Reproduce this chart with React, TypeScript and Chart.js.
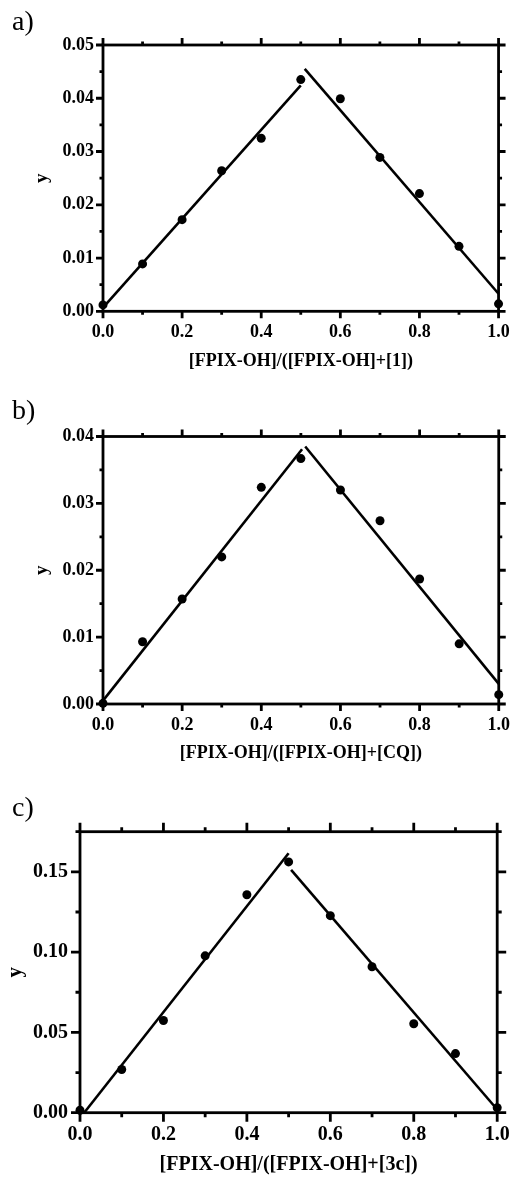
import React, { useEffect, useRef } from 'react';
import { Chart, registerables } from 'chart.js';

Chart.register(...registerables);

const FONT = "'Liberation Serif', 'Times New Roman', Times, serif";

// ---- shared x data ----
const xValues = [0, 0.1, 0.2, 0.3, 0.4, 0.5, 0.6, 0.7, 0.8, 0.9, 1.0];
const xMajorTicks = [0, 0.2, 0.4, 0.6, 0.8, 1.0];
const xMinorTicks = [0.1, 0.3, 0.5, 0.7, 0.9];
const xTickLabels = ['0.0', '0.2', '0.4', '0.6', '0.8', '1.0'];

// ---- panel a ----
const yA = [0.0012, 0.0089, 0.0172, 0.0264, 0.0325, 0.0435, 0.0399, 0.0289, 0.0221, 0.0122, 0.0014];
const fitA1X = [0, 0.5];
const fitA1Y = [0.0007, 0.0424];
const fitA2X = [0.51, 1.0];
const fitA2Y = [0.0455, 0.0033];
const yMajorA = [0, 0.01, 0.02, 0.03, 0.04, 0.05];
const yMinorA = [0.005, 0.015, 0.025, 0.035, 0.045];
const yLabelsA = ['0.00', '0.01', '0.02', '0.03', '0.04', '0.05'];
const titleA = '[FPIX-OH]/([FPIX-OH]+[1])';

// ---- panel b ----
const yB = [0.0001, 0.0093, 0.0157, 0.022, 0.0324, 0.0367, 0.032, 0.0274, 0.0187, 0.009, 0.0014];
const fitB1X = [0, 0.503];
const fitB1Y = [0.0005, 0.0381];
const fitB2X = [0.511, 1.0];
const fitB2Y = [0.0385, 0.003];
const yMajorB = [0, 0.01, 0.02, 0.03, 0.04];
const yMinorB = [0.005, 0.015, 0.025, 0.035];
const yLabelsB = ['0.00', '0.01', '0.02', '0.03', '0.04'];
const titleB = '[FPIX-OH]/([FPIX-OH]+[CQ])';

// ---- panel c ----
const yC = [0.0015, 0.0269, 0.0574, 0.0977, 0.1357, 0.1562, 0.1227, 0.0909, 0.0554, 0.0368, 0.0031];
const fitC1X = [0.01, 0.5];
const fitC1Y = [0.0, 0.1616];
const fitC2X = [0.506, 1.0];
const fitC2Y = [0.1512, 0.002];
const yMajorC = [0, 0.05, 0.1, 0.15];
const yMinorC = [0.025, 0.075, 0.125, 0.175];
const yLabelsC = ['0.00', '0.05', '0.10', '0.15'];
const titleC = '[FPIX-OH]/([FPIX-OH]+[3c])';

const framePlugin = {
  id: 'frame',
  beforeDatasetsDraw(chart: any, _args: any, opts: any) {
    const { ctx, chartArea } = chart;
    const { left, right, top, bottom } = chartArea;
    const xs = chart.scales.x;
    const ys = chart.scales.y;
    ctx.save();
    ctx.strokeStyle = '#000';
    ctx.lineWidth = opts.lineWidth;
    ctx.lineCap = 'butt';
    ctx.strokeRect(left, top, right - left, bottom - top);
    const L = opts.major;
    const l = opts.minor;
    ctx.beginPath();
    const xt = (v: number, len: number) => {
      const p = xs.getPixelForValue(v);
      ctx.moveTo(p, bottom);
      ctx.lineTo(p, bottom + len);
      ctx.moveTo(p, top);
      ctx.lineTo(p, top - len);
    };
    const yt = (v: number, len: number) => {
      const p = ys.getPixelForValue(v);
      ctx.moveTo(left, p);
      ctx.lineTo(left - len, p);
      ctx.moveTo(right, p);
      ctx.lineTo(right + len, p);
    };
    opts.xMajor.forEach((v: number) => xt(v, L));
    opts.xMinor.forEach((v: number) => xt(v, l));
    opts.yMajor.forEach((v: number) => yt(v, L));
    opts.yMinor.forEach((v: number) => yt(v, l));
    ctx.stroke();
    ctx.font = `28px ${FONT}`;
    ctx.fillStyle = '#000';
    ctx.textBaseline = 'middle';
    ctx.textAlign = 'left';
    ctx.fillText(opts.letter, opts.letterX, opts.letterY);
    ctx.restore();
  },
};

type PanelProps = {
  top: number;
  height: number;
  letter: string;
  letterY: number;
  ys: number[];
  fit1X: number[];
  fit1Y: number[];
  fit2X: number[];
  fit2Y: number[];
  yMax: number;
  yMajor: number[];
  yMinor: number[];
  yLabels: string[];
  title: string;
  area: { left: number; right: number; top: number; bottom: number };
  fontSize: number;
  tickLen: number;
  yLabelPad: number;
  yTitleX: number;
  xLabelY: number;
  xTitleY: number;
};

function toPts(xs: number[], ys: number[]) {
  return xs.map((x, i) => ({ x, y: ys[i] }));
}

function Panel(p: PanelProps) {
  const ref = useRef<HTMLCanvasElement | null>(null);
  useEffect(() => {
    if (!ref.current) return;
    const W = 522;
    const H = p.height;
    const half = p.fontSize / 2;
    const font = { family: FONT, size: p.fontSize, weight: 'bold' as const, lineHeight: 1 };
    const yFont = { family: FONT, size: p.fontSize + 1, weight: 'bold' as const, lineHeight: 1 };
    const chart = new Chart(ref.current, {
      type: 'scatter',
      data: {
        datasets: [
          {
            data: toPts(xValues, p.ys),
            pointRadius: 4.5,
            pointBackgroundColor: '#000',
            pointBorderColor: '#000',
            pointBorderWidth: 0,
            showLine: false,
            clip: false,
          } as any,
          {
            data: toPts(p.fit1X, p.fit1Y),
            showLine: true,
            pointRadius: 0,
            borderColor: '#000',
            borderWidth: 2.6,
            fill: false,
            clip: false,
          } as any,
          {
            data: toPts(p.fit2X, p.fit2Y),
            showLine: true,
            pointRadius: 0,
            borderColor: '#000',
            borderWidth: 2.6,
            fill: false,
            clip: false,
          } as any,
        ],
      },
      options: {
        responsive: false,
        animation: false,
        events: [],
        devicePixelRatio: 1,
        layout: {
          padding: { left: 0, top: p.area.top, right: W - p.area.right, bottom: 0 },
        },
        plugins: {
          legend: { display: false },
          tooltip: { enabled: false },
          title: { display: false },
          frame: {
            lineWidth: 2.8,
            major: p.tickLen,
            minor: p.tickLen / 2,
            xMajor: xMajorTicks,
            xMinor: xMinorTicks,
            yMajor: p.yMajor,
            yMinor: p.yMinor,
            letter: p.letter,
            letterX: 12,
            letterY: p.letterY,
          },
        } as any,
        scales: {
          x: {
            type: 'linear',
            min: 0,
            max: 1,
            grid: { display: false, drawTicks: false },
            border: { display: false },
            afterBuildTicks: (s: any) => {
              s.ticks = xMajorTicks.map((v) => ({ value: v }));
            },
            afterFit: (s: any) => {
              s.height = H - p.area.bottom;
            },
            ticks: {
              autoSkip: false,
              maxRotation: 0,
              minRotation: 0,
              color: '#000',
              font,
              padding: p.xLabelY - p.area.bottom - half,
              callback: (_v: any, i: number) => xTickLabels[i],
            },
            title: {
              display: true,
              text: p.title,
              color: '#000',
              font,
              padding: { top: 0, bottom: H - p.xTitleY - half },
            },
          },
          y: {
            type: 'linear',
            min: 0,
            max: p.yMax,
            grid: { display: false, drawTicks: false },
            border: { display: false },
            afterBuildTicks: (s: any) => {
              s.ticks = p.yMajor.map((v) => ({ value: v }));
            },
            afterFit: (s: any) => {
              s.width = p.area.left;
            },
            ticks: {
              autoSkip: false,
              color: '#000',
              font,
              padding: p.yLabelPad,
              callback: (_v: any, i: number) => p.yLabels[i],
            },
            title: {
              display: true,
              text: 'y',
              color: '#000',
              font: yFont,
              padding: { top: p.yTitleX - (p.fontSize + 1) / 2, bottom: 0 },
            },
          },
        },
      } as any,
      plugins: [framePlugin as any],
    });
    return () => chart.destroy();
  }, []);
  return (
    <canvas
      ref={ref}
      width={522}
      height={p.height}
      style={{ position: 'absolute', left: 0, top: p.top, width: 522, height: p.height, display: 'block' }}
    />
  );
}

export default function App() {
  return (
    <div style={{ position: 'absolute', left: 0, top: 0, width: 522, height: 1178, background: '#fff' }}>
      <Panel
        top={0}
        height={390}
        letter="a)"
        letterY={23}
        ys={yA}
        fit1X={fitA1X}
        fit1Y={fitA1Y}
        fit2X={fitA2X}
        fit2Y={fitA2Y}
        yMax={0.05}
        yMajor={yMajorA}
        yMinor={yMinorA}
        yLabels={yLabelsA}
        title={titleA}
        area={{ left: 103, right: 506.7, top: 45, bottom: 311.3 }}
        fontSize={18}
        tickLen={7}
        yLabelPad={9}
        yTitleX={42}
        xLabelY={332.5}
        xTitleY={361.7}
      />
      <Panel
        top={390}
        height={390}
        letter="b)"
        letterY={22}
        ys={yB}
        fit1X={fitB1X}
        fit1Y={fitB1Y}
        fit2X={fitB2X}
        fit2Y={fitB2Y}
        yMax={0.04}
        yMajor={yMajorB}
        yMinor={yMinorB}
        yLabels={yLabelsB}
        title={titleB}
        area={{ left: 103, right: 506.7, top: 46.5, bottom: 314 }}
        fontSize={18}
        tickLen={7}
        yLabelPad={9}
        yTitleX={42}
        xLabelY={335}
        xTitleY={363.3}
      />
      <Panel
        top={780}
        height={398}
        letter="c)"
        letterY={28.5}
        ys={yC}
        fit1X={fitC1X}
        fit1Y={fitC1Y}
        fit2X={fitC2X}
        fit2Y={fitC2Y}
        yMax={0.175}
        yMajor={yMajorC}
        yMinor={yMinorC}
        yLabels={yLabelsC}
        title={titleC}
        area={{ left: 80, right: 508.3, top: 51.7, bottom: 332.7 }}
        fontSize={20}
        tickLen={9}
        yLabelPad={12}
        yTitleX={16}
        xLabelY={355}
        xTitleY={385}
      />
    </div>
  );
}
